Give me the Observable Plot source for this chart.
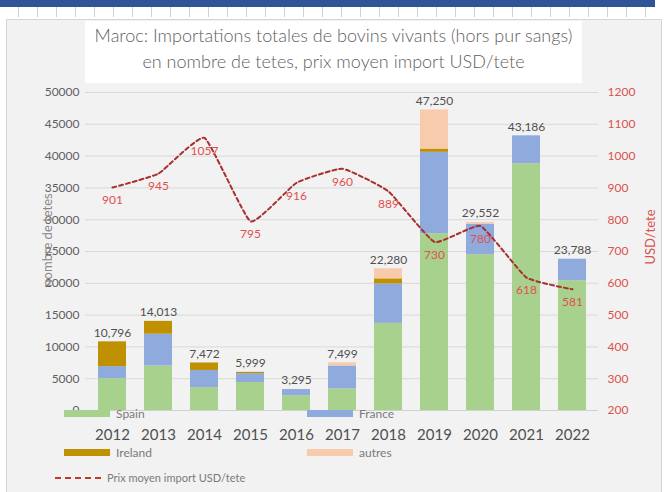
<!DOCTYPE html>
<html><head><meta charset="utf-8">
<script src="https://cdn.jsdelivr.net/npm/d3@7"></script>
<script src="https://cdn.jsdelivr.net/npm/@observablehq/plot@0.6"></script>
<style>
body{margin:0;background:#fff;font-family:Lato,"Open Sans",sans-serif;}
#wrap{position:relative;width:665px;height:492px;overflow:hidden;background:#fff}
#topbar{position:absolute;left:0;top:0;width:655px;height:7px;background:#2f5597}
#ruler{position:absolute;left:0;top:7px;width:655px;height:10px;background:repeating-linear-gradient(90deg,#fff 0 18px,#c8d0dc 18px 19px)}
#panel{position:absolute;left:6px;top:19px;width:654px;height:480px;background:#f2f2f2;border:1px solid #d6d6d6}
#title{position:absolute;left:85px;top:21px;width:497px;height:62px;background:#fff;color:#5f5f5f;font-size:18px;text-align:center;line-height:26px;padding-top:1px;box-sizing:border-box;letter-spacing:0px;font-weight:300}
#chart{position:absolute;left:0;top:0}
.leg{position:absolute;font-size:12px;color:#7a7a7a;display:flex;align-items:center;white-space:nowrap}
.sw{display:inline-block;width:46px;height:7px;margin-right:6px}
.dash{display:inline-block;width:46px;height:0;border-top:2px dashed #c0392b;margin-right:6px}
.ytitle{position:absolute;font-size:13px;white-space:nowrap;transform:translate(-50%,-50%) rotate(-90deg)}
</style></head><body>
<div id="wrap">
  <div id="topbar"></div><div id="ruler"></div>
  <div id="panel"></div>
  <div id="title">Maroc: Importations totales de bovins vivants (hors pur sangs)<br>en nombre de tetes, prix moyen import USD/tete</div>
  <div id="chart"></div>
  <div class="ytitle" style="left:47px;top:240px;color:#8a8a8a">nombre de tetes</div>
  <div class="ytitle" style="left:650px;top:237px;color:#d9534f">USD/tete</div>
  <div class="leg" style="left:64px;top:406px"><span class="sw" style="background:#a9d18e"></span>Spain</div>
  <div class="leg" style="left:307px;top:406px"><span class="sw" style="background:#8faadc"></span>France</div>
  <div class="leg" style="left:64px;top:445px"><span class="sw" style="background:#bf9000"></span>Ireland</div>
  <div class="leg" style="left:307px;top:445px"><span class="sw" style="background:#f8cbad"></span>autres</div>
  <div class="leg" style="left:55px;top:471px;font-size:11px"><span class="dash"></span>Prix moyen import USD/tete</div>
</div>
<script>
const years = [2012, 2013, 2014, 2015, 2016, 2017, 2018, 2019, 2020, 2021, 2022];
const spain = [5000, 7000, 3600, 4400, 2300, 3400, 13700, 27800, 24500, 38800, 20400];
const france = [1900, 5000, 2700, 1400, 995, 3600, 6200, 12800, 4800, 4386, 3388];
const ireland = [3896, 2013, 1172, 199, 0, 0, 800, 500, 0, 0, 0];
const autres = [0, 0, 0, 0, 0, 499, 1580, 6150, 252, 0, 0];
const totals = [10796, 14013, 7472, 5999, 3295, 7499, 22280, 47250, 29552, 43186, 23788];
const price = [901, 945, 1057, 795, 916, 960, 889, 730, 780, 618, 581];

const seriesNames = ["Spain", "France", "Ireland", "autres"];
const seriesVals = [spain, france, ireland, autres];
const seriesColors = ["#a9d18e", "#8faadc", "#bf9000", "#f8cbad"];

const stackRows = [];
seriesNames.forEach((s, si) => years.forEach((y, i) => stackRows.push({year: String(y), series: s, value: seriesVals[si][i]})));
const totalRows = years.map((y, i) => ({year: String(y), total: totals[i]}));
// price mapped on right axis: 200..1200 -> 0..50000
const toLeft = p => (p - 200) * 50;
const priceRows = years.map((y, i) => ({year: String(y), price: price[i], yv: toLeft(price[i])}));

const chart = Plot.plot({
  width: 665, height: 492,
  marginLeft: 85, marginRight: 67, marginTop: 92, marginBottom: 82,
  style: {background: "transparent", fontFamily: "Lato, 'Open Sans', sans-serif"},
  x: {domain: years.map(String), paddingInner: 0.4, paddingOuter: 0.25},
  y: {domain: [0, 50000]},
  color: {domain: seriesNames, range: seriesColors},
  marks: [
    Plot.gridY(d3.range(0, 50001, 5000), {stroke: "#d9d9d9", strokeOpacity: 1}),
    Plot.ruleY([0], {stroke: "#d0d0d0"}),
    Plot.barY(stackRows, {x: "year", y: "value", fill: "series", order: seriesNames}),
    Plot.text(totalRows, {x: "year", y: "total", text: d => d3.format(",")(d.total), dy: -9, fill: "#505050", fontSize: 12}),
    Plot.line(priceRows, {x: "year", y: "yv", stroke: "#a83030", strokeWidth: 2, strokeDasharray: "4,3", curve: "cardinal", tension: 0.6}),
    Plot.text(priceRows, {x: "year", y: "yv", text: d => String(d.price), dy: 13, fill: "#e05050", fontSize: 12}),
    Plot.axisY(d3.range(0, 50001, 5000), {anchor: "left", tickSize: 0, tickPadding: 6, fontSize: 12, color: "#606060", label: null, tickFormat: d => String(d)}),
    Plot.axisY(d3.range(0, 50001, 5000), {anchor: "right", tickSize: 0, tickPadding: 9, fontSize: 12, color: "#d9534f", label: null, tickFormat: d => String(d / 50 + 200)}),
    Plot.axisX({tickSize: 0, tickPadding: 19, fontSize: 15, color: "#505050", label: null})
  ]
});
document.getElementById("chart").appendChild(chart);
</script>
</body></html>
